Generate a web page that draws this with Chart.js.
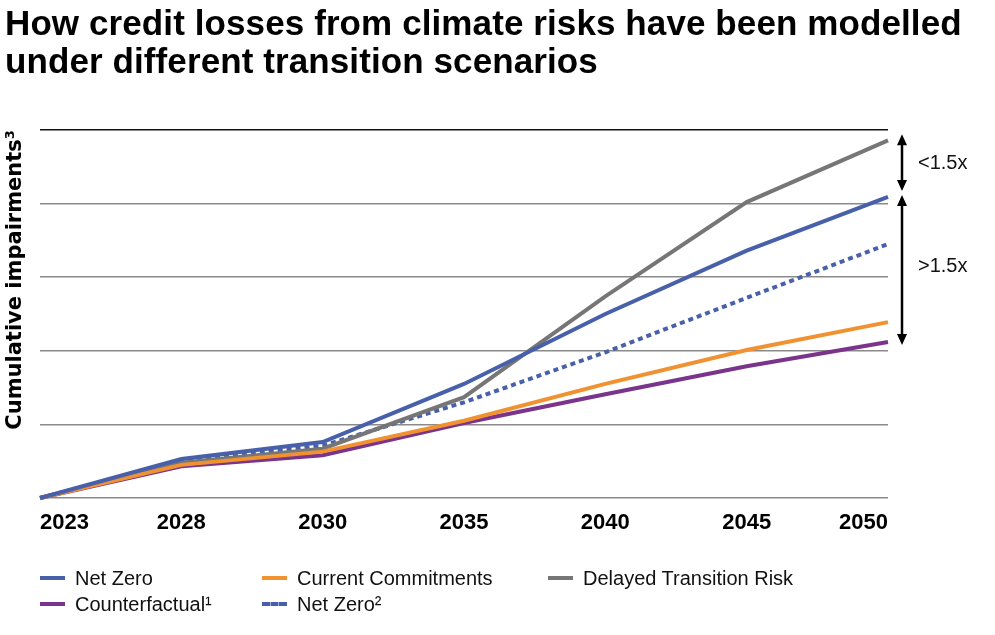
<!DOCTYPE html>
<html>
<head>
<meta charset="utf-8">
<script src="https://cdn.jsdelivr.net/npm/chart.js@4/dist/chart.umd.min.js"></script>
<style>
  html, body { margin: 0; padding: 0; background: #fff; }
  #wrap { position: relative; width: 995px; height: 635px; }
  #c { position: absolute; left: 0; top: 0; }
  #title { position: absolute; left: 5px; top: 4px; font-family: "Liberation Sans", Arial, sans-serif;
           font-weight: bold; font-size: 35px; line-height: 38px; color: #000; white-space: nowrap; letter-spacing: 0.1px; }
  #legend { position: absolute; left: 0; top: 0; width: 995px; height: 635px; pointer-events: none;
            font-family: "Liberation Sans", Arial, sans-serif; font-size: 20px; color: #111; }
  .li { position: absolute; display: flex; align-items: center; white-space: nowrap; }
  .sw { width: 25px; height: 0; margin-right: 10px; }
</style>
</head>
<body>
<div id="wrap">
  <canvas id="c" width="995" height="635"></canvas>
  <div id="title"></div>
  <div id="legend"></div>
</div>
<script>
const titleLines = ["How credit losses from climate risks have been modelled", "under different transition scenarios"];
const yAxisTitle = "Cumulative impairments³";
const years = ["2023", "2028", "2030", "2035", "2040", "2045", "2050"];
const netZero = [0, 0.53, 0.76, 1.55, 2.50, 3.36, 4.09];
const currentCommitments = [0, 0.45, 0.63, 1.05, 1.55, 2.01, 2.39];
const delayedTransition = [0, 0.48, 0.67, 1.37, 2.74, 4.02, 4.86];
const counterfactual = [0, 0.43, 0.58, 1.02, 1.41, 1.79, 2.12];
const netZero2 = [0, 0.50, 0.71, 1.30, 1.98, 2.72, 3.45];
const seriesNames = ["Net Zero", "Current Commitments", "Delayed Transition Risk", "Counterfactual¹", "Net Zero²"];
const annotationLabels = ["<1.5x", ">1.5x"];

const BLUE = "rgb(72,96,170)";
const ORANGE = "rgb(241,146,50)";
const GRAY = "rgb(118,118,118)";
const PURPLE = "rgb(122,52,140)";

// title as real text
const titleEl = document.getElementById('title');
titleLines.forEach((t) => {
  const d = document.createElement('div');
  d.textContent = t;
  titleEl.appendChild(d);
});

const arrowPlugin = {
  id: 'arrows',
  afterDatasetsDraw(chart) {
    const ctx = chart.ctx;
    const y = chart.scales.y;
    const x = chart.chartArea.right + 14;
    const last = years.length - 1;
    const yGray = y.getPixelForValue(delayedTransition[last]);
    const yBlue = y.getPixelForValue(netZero[last]);
    const yPurple = y.getPixelForValue(counterfactual[last]);
    function arrow(y1, y2) {
      ctx.save();
      ctx.strokeStyle = '#000';
      ctx.fillStyle = '#000';
      ctx.lineWidth = 2.5;
      ctx.beginPath();
      ctx.moveTo(x, y1 + 6);
      ctx.lineTo(x, y2 - 6);
      ctx.stroke();
      ctx.beginPath();
      ctx.moveTo(x, y1); ctx.lineTo(x - 5, y1 + 11); ctx.lineTo(x + 5, y1 + 11); ctx.closePath(); ctx.fill();
      ctx.beginPath();
      ctx.moveTo(x, y2); ctx.lineTo(x - 5, y2 - 11); ctx.lineTo(x + 5, y2 - 11); ctx.closePath(); ctx.fill();
      ctx.restore();
    }
    const a1 = yGray - 6, b1 = yBlue - 6;
    const a2 = yBlue - 2, b2 = yPurple + 3;
    arrow(a1, b1);
    arrow(a2, b2);
    ctx.save();
    ctx.fillStyle = '#111';
    ctx.font = '20px "Liberation Sans", Arial, sans-serif';
    ctx.textBaseline = 'middle';
    ctx.textAlign = 'left';
    ctx.fillText(annotationLabels[0], x + 16, (a1 + b1) / 2 + 1);
    ctx.fillText(annotationLabels[1], x + 16, (a2 + b2) / 2 - 3);
    ctx.restore();
  }
};

const datasets = [
  { label: seriesNames[0], data: netZero, borderColor: BLUE, borderWidth: 4 },
  { label: seriesNames[1], data: currentCommitments, borderColor: ORANGE, borderWidth: 4 },
  { label: seriesNames[2], data: delayedTransition, borderColor: GRAY, borderWidth: 4 },
  { label: seriesNames[3], data: counterfactual, borderColor: PURPLE, borderWidth: 4 },
  { label: seriesNames[4], data: netZero2, borderColor: BLUE, borderWidth: 4, borderDash: [5, 4] }
].map(d => Object.assign(d, { pointRadius: 0, fill: false, tension: 0, clip: false, borderCapStyle: 'butt' }));

const chart = new Chart(document.getElementById('c'), {
  type: 'line',
  data: { labels: years, datasets },
  plugins: [arrowPlugin],
  options: {
    responsive: false,
    animation: false,
    devicePixelRatio: 1,
    layout: { padding: { left: 5, right: 107, top: 130, bottom: 100 } },
    plugins: {
      legend: { display: false },
      tooltip: { enabled: false },
      title: { display: false }
    },
    scales: {
      x: {
        offset: false,
        grid: { display: false, drawTicks: false },
        border: { display: false },
        ticks: {
          align: 'inner',
          color: '#000',
          padding: 12,
          maxRotation: 0,
          autoSkip: false,
          font: { family: '"Liberation Sans", Arial, sans-serif', size: 22, weight: 'bold' }
        },
        afterFit(scale) { scale.height = 37; }
      },
      y: {
        min: 0, max: 5,
        ticks: { display: false, stepSize: 1 },
        border: { display: false },
        grid: {
          drawTicks: false,
          lineWidth: 1.5,
          color: (c) => (c.tick && c.tick.value === 5) ? '#111' : '#8a8a8a'
        },
        title: {
          display: true,
          text: yAxisTitle,
          align: 'end',
          color: '#000',
          padding: { top: 0, bottom: 0 },
          font: { family: '"DejaVu Sans", sans-serif', size: 21, weight: 'bold', lineHeight: 1.0 }
        },
        afterFit(scale) { scale.width = 35; }
      }
    }
  }
});

// HTML legend built from the chart's datasets
const legendPos = [
  { left: 40, top: 578 }, { left: 262, top: 578 }, { left: 548, top: 578 },
  { left: 40, top: 604 }, { left: 262, top: 604 }
];
const legendEl = document.getElementById('legend');
chart.data.datasets.forEach((ds, i) => {
  const item = document.createElement('div');
  item.className = 'li';
  item.style.left = legendPos[i].left + 'px';
  item.style.top = (legendPos[i].top - 11) + 'px';
  item.style.height = '22px';
  const sw = document.createElement('span');
  sw.className = 'sw';
  sw.style.borderTop = '4px ' + (ds.borderDash ? 'dashed ' : 'solid ') + ds.borderColor;
  const tx = document.createElement('span');
  tx.textContent = ds.label;
  item.appendChild(sw);
  item.appendChild(tx);
  legendEl.appendChild(item);
});
</script>
</body>
</html>
